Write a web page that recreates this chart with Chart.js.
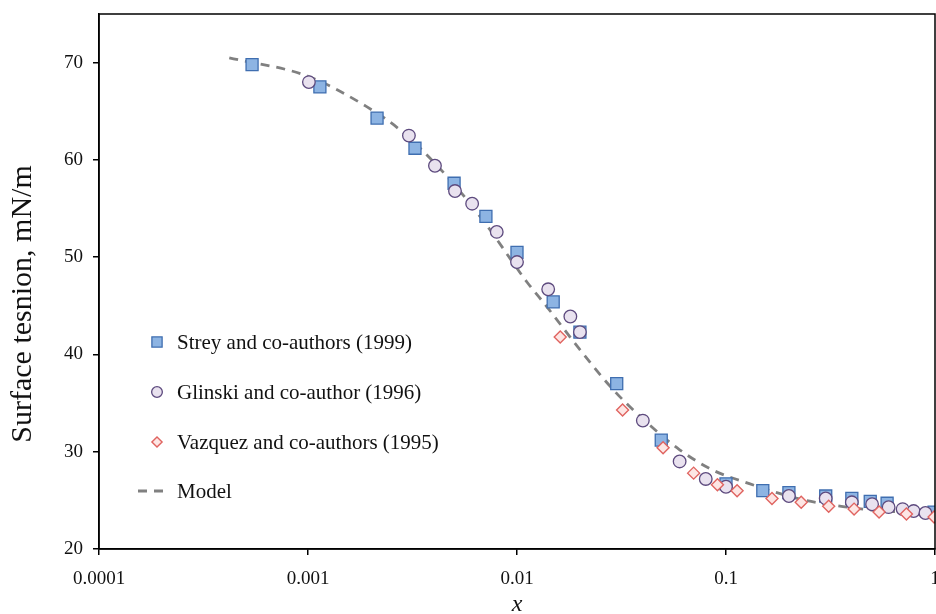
<!DOCTYPE html>
<html>
<head>
<meta charset="utf-8" />
<title>Surface tension</title>
<script src="https://cdn.jsdelivr.net/npm/chart.js@4.4.1/dist/chart.umd.min.js"></script>
<style>
  html, body { margin: 0; padding: 0; background: #fff; }
  #wrap { width: 936px; height: 614px; position: relative; }
</style>
</head>
<body>
<div id="wrap"><canvas id="tensionChart"></canvas></div>
<script>
// Strey and co-authors (1999)
const streyX = [0.00054, 0.00114, 0.00214, 0.00325, 0.0050, 0.0071, 0.0100, 0.0149, 0.0200, 0.0300, 0.0490, 0.100, 0.150, 0.200, 0.300, 0.400, 0.490, 0.590, 0.990];
const streyY = [69.8, 67.5, 64.3, 61.2, 57.6, 54.2, 50.5, 45.4, 42.3, 37.0, 31.2, 26.7, 26.0, 25.8, 25.45, 25.2, 24.9, 24.7, 23.8];

// Glinski and co-author (1996)
const glinskiX = [0.00101, 0.00304, 0.00405, 0.00505, 0.0061, 0.0080, 0.0100, 0.0141, 0.0180, 0.0200, 0.0400, 0.0600, 0.0800, 0.100, 0.200, 0.300, 0.400, 0.500, 0.600, 0.700, 0.790, 0.900];
const glinskiY = [68.0, 62.5, 59.4, 56.8, 55.5, 52.6, 49.5, 46.7, 43.9, 42.3, 33.2, 29.0, 27.2, 26.4, 25.45, 25.2, 24.8, 24.6, 24.3, 24.1, 23.9, 23.7];

// Vazquez and co-authors (1995)
const vazquezX = [0.0161, 0.032, 0.050, 0.070, 0.091, 0.113, 0.166, 0.229, 0.310, 0.410, 0.540, 0.730, 0.990];
const vazquezY = [41.8, 34.3, 30.4, 27.8, 26.6, 26.0, 25.2, 24.8, 24.4, 24.1, 23.8, 23.6, 23.3];

// Model curve
const modelX = [0.00042, 0.001, 0.0019, 0.00275, 0.00463, 0.00687, 0.0112, 0.0139, 0.020, 0.0288, 0.0418, 0.060, 0.0867, 0.126, 0.219, 0.38, 0.50, 0.70, 1.0];
const modelY = [70.5, 68.6, 65.5, 63.1, 58.3, 53.8, 47.4, 44.9, 40.5, 36.4, 33.0, 30.2, 28.1, 26.8, 25.2, 24.3, 24.0, 23.8, 23.6];

const xTicks = [0.0001, 0.001, 0.01, 0.1, 1];
const xTickLabels = ['0.0001', '0.001', '0.01', '0.1', '1'];
const yTicks = [20, 30, 40, 50, 60, 70];

const seriesNames = ['Strey and co-authors (1999)', 'Glinski and co-author (1996)', 'Vazquez and co-authors (1995)', 'Model'];

const toPoints = (xs, ys) => xs.map((x, i) => ({ x: x, y: ys[i] }));

const serif = '"Liberation Serif", "Times New Roman", serif';
const nbsp = '\u00a0';

// box around the plot area
const frame = {
    id: 'frame',
    afterDraw(chart) {
        const { ctx, chartArea: a } = chart;
        ctx.save();
        ctx.strokeStyle = '#000';
        ctx.lineWidth = 1.5;
        ctx.strokeRect(a.left, a.top, a.right - a.left, a.bottom - a.top);
        ctx.restore();
    }
};

// legend drawn inside the plot, lower left
const innerLegend = {
    id: 'innerLegend',
    afterDraw(chart) {
        const ctx = chart.ctx;
        const mx = 157, tx = 177;
        const rows = [342, 392, 442, 491];
        ctx.save();
        ctx.font = '21px ' + serif;
        ctx.textBaseline = 'middle';
        chart.data.datasets.forEach((ds, i) => {
            const y = rows[i];
            if (ds.showLine) {
                ctx.strokeStyle = ds.borderColor;
                ctx.lineWidth = ds.borderWidth;
                ctx.setLineDash(ds.borderDash);
                ctx.beginPath();
                ctx.moveTo(138, y);
                ctx.lineTo(168, y);
                ctx.stroke();
                ctx.setLineDash([]);
            } else {
                ctx.fillStyle = ds.backgroundColor;
                ctx.strokeStyle = ds.borderColor;
                ctx.lineWidth = ds.borderWidth;
                Chart.helpers.drawPoint(ctx, {
                    pointStyle: ds.pointStyle,
                    radius: ds.pointRadius * 0.85,
                    borderWidth: ds.borderWidth
                }, mx, y);
            }
            ctx.fillStyle = '#111';
            ctx.fillText(ds.label, tx, y + 1);
        });
        ctx.restore();
    }
};

const ctxTension = document.getElementById('tensionChart').getContext('2d');

new Chart(ctxTension, {
    type: 'scatter',
    data: {
        datasets: [
            {
                label: seriesNames[0],
                data: toPoints(streyX, streyY),
                pointStyle: 'rect',
                pointRadius: 8.5,
                backgroundColor: '#8db4e3',
                borderColor: '#3f6eb0',
                borderWidth: 1.3,
                order: 3
            },
            {
                label: seriesNames[1],
                data: toPoints(glinskiX, glinskiY),
                pointStyle: 'circle',
                pointRadius: 6.3,
                backgroundColor: '#e9e2ef',
                borderColor: '#5d4a7e',
                borderWidth: 1.3,
                order: 2
            },
            {
                label: seriesNames[2],
                data: toPoints(vazquezX, vazquezY),
                pointStyle: 'rectRot',
                pointRadius: 6,
                backgroundColor: '#fde6e4',
                borderColor: '#e06460',
                borderWidth: 1.4,
                order: 1
            },
            {
                label: seriesNames[3],
                data: toPoints(modelX, modelY),
                showLine: true,
                pointRadius: 0,
                borderColor: '#808080',
                borderWidth: 2.8,
                borderDash: [9, 7],
                cubicInterpolationMode: 'monotone',
                fill: false,
                order: 4
            }
        ]
    },
    options: {
        responsive: true,
        maintainAspectRatio: false,
        animation: false,
        layout: { autoPadding: false, padding: { top: 14, right: 1, left: 0, bottom: 0 } },
        plugins: {
            legend: { display: false },
            tooltip: { enabled: false }
        },
        scales: {
            x: {
                type: 'logarithmic',
                min: 0.0001,
                max: 1,
                afterBuildTicks: s => { s.ticks = xTicks.map(v => ({ value: v })); },
                afterFit: s => { s.height = 65; s.paddingRight = 0; s.paddingLeft = 0; },
                grid: { display: true, drawOnChartArea: false, drawTicks: true, tickLength: 6, color: '#000', lineWidth: 1.5 },
                border: { display: true, color: '#000', width: 1.5 },
                ticks: {
                    color: '#111',
                    padding: 13,
                    maxRotation: 0,
                    autoSkip: false,
                    font: { family: serif, size: 19 },
                    callback: (v) => { const i = xTicks.indexOf(v); return i >= 0 ? xTickLabels[i] : ''; }
                },
                title: {
                    display: true,
                    text: 'x',
                    color: '#111',
                    padding: { top: 0, bottom: -5 },
                    font: { family: serif, size: 24, style: 'italic' }
                }
            },
            y: {
                min: 20,
                max: 75,
                afterBuildTicks: s => { s.ticks = yTicks.map(v => ({ value: v })); },
                afterFit: s => { s.width = 99; s.paddingTop = 0; s.paddingBottom = 0; },
                grid: { display: true, drawOnChartArea: false, drawTicks: true, tickLength: 6, color: '#000', lineWidth: 1.5 },
                border: { display: true, color: '#000', width: 1.5 },
                ticks: {
                    color: '#111',
                    padding: 10,
                    font: { family: serif, size: 19 }
                },
                title: {
                    display: true,
                    text: 'Surface tesnion, mN/m' + nbsp.repeat(6),
                    color: '#111',
                    padding: { top: 5, bottom: 0 },
                    font: { family: serif, size: 30 }
                }
            }
        }
    },
    plugins: [frame, innerLegend]
});
</script>
</body>
</html>
